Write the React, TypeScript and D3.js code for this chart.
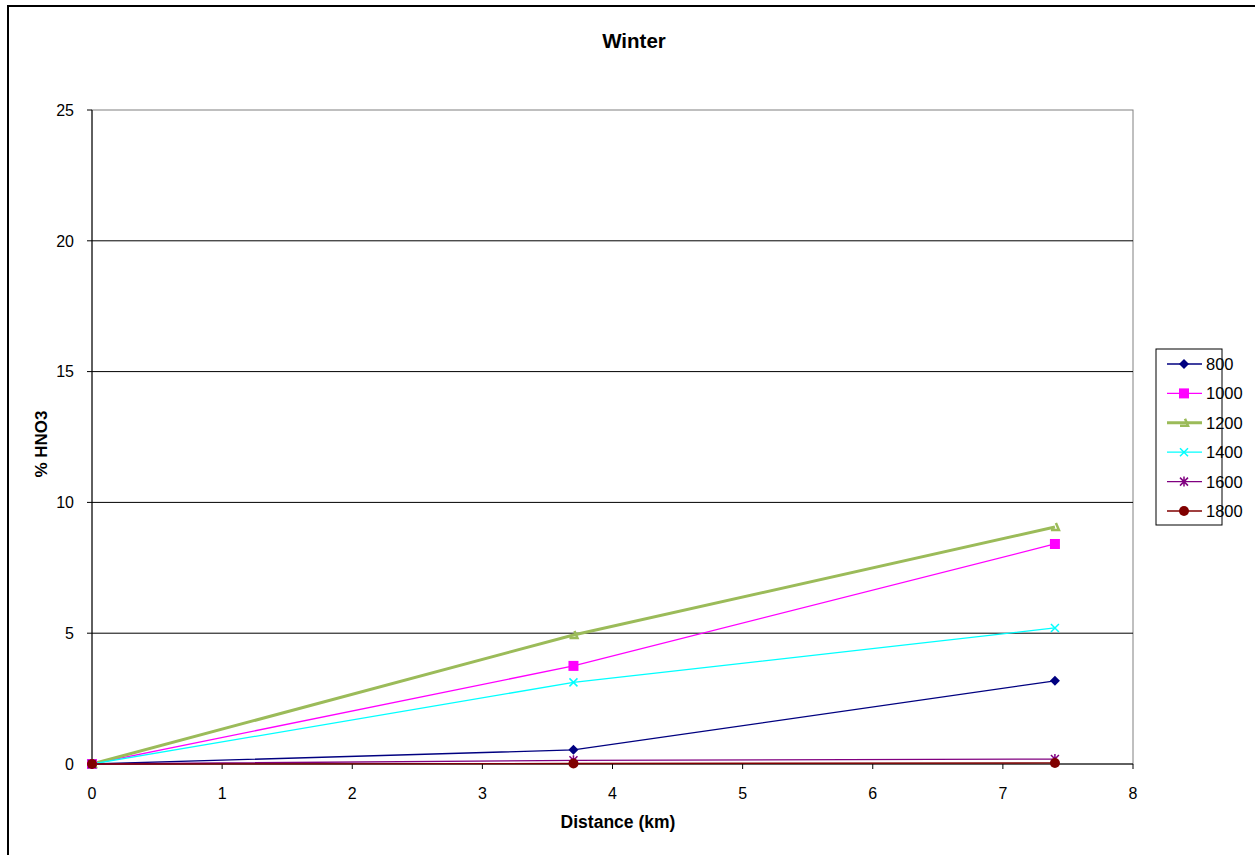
import React from "react";
import * as d3 from "d3";

const distances = [0, 3.7, 7.4];
const seriesNames = ["800", "1000", "1200", "1400", "1600", "1800"];
const v800 = [0, 0.54, 3.18];
const v1000 = [0, 3.75, 8.41];
const v1200 = [0, 4.93, 9.06];
const v1400 = [0, 3.12, 5.2];
const v1600 = [0, 0.14, 0.19];
const v1800 = [0, 0.02, 0.04];
const seriesValues = [v800, v1000, v1200, v1400, v1600, v1800];
const colors = ["#000080", "#FF00FF", "#9BBB59", "#00FFFF", "#800080", "#800000"];
const widths = [1.3, 1.3, 3, 1.3, 1.3, 1.3];
const xTicks = [0, 1, 2, 3, 4, 5, 6, 7, 8];
const yTicks = [0, 5, 10, 15, 20, 25];

function Marker({ i, x, y }: { i: number; x: number; y: number }) {
  const c = colors[i];
  switch (i) {
    case 0:
      return <path d={`M${x},${y - 5}L${x + 5},${y}L${x},${y + 5}L${x - 5},${y}Z`} fill={c} />;
    case 1:
      return <rect x={x - 5} y={y - 5} width={10} height={10} fill={c} />;
    case 2:
      return (
        <path
          d={`M${x - 4},${y + 3}L${x + 4},${y + 3}L${x + 1},${y - 4}`}
          fill="none"
          stroke={c}
          strokeWidth={2.5}
        />
      );
    case 3:
      return (
        <path d={`M${x - 4},${y - 4}L${x + 4},${y + 4}M${x - 4},${y + 4}L${x + 4},${y - 4}`} stroke={c} strokeWidth={1.5} />
      );
    case 4:
      return (
        <path
          d={`M${x - 4},${y - 4}L${x + 4},${y + 4}M${x - 4},${y + 4}L${x + 4},${y - 4}M${x},${y - 5}L${x},${y + 5}`}
          stroke={c}
          strokeWidth={1.5}
        />
      );
    default:
      return <circle cx={x} cy={y} r={5} fill={c} />;
  }
}

export default function App() {
  const W = 1255;
  const H = 855;
  const left = 92, right = 1133, top = 110, bottom = 764;
  const x = d3.scaleLinear().domain([0, 8]).range([left, right]);
  const y = d3.scaleLinear().domain([0, 25]).range([bottom, top]);
  const line = d3
    .line<number>()
    .x((_, j) => x(distances[j]))
    .y((d) => y(d));
  const font = "'Liberation Sans', Arial, sans-serif";
  const legX = 1156, legY = 349, legW = 66, legH = 176;
  const legStep = 29.4;

  return (
    <svg
      width={W}
      height={H}
      style={{ position: "absolute", left: 0, top: 0, display: "block" }}
      fontFamily={font}
    >
      <rect x={0} y={0} width={W} height={H} fill="#fff" />
      <rect x={8} y={6} width={W + 20} height={H + 20} fill="#fff" stroke="#000" strokeWidth={2} />
      {/* plot area border */}
      <rect x={left} y={top} width={right - left} height={bottom - top} fill="#fff" stroke="#808080" strokeWidth={1} />
      {/* gridlines */}
      {yTicks.filter((t) => t > 0 && t < 25).map((t) => (
        <line key={t} x1={left} x2={right} y1={y(t)} y2={y(t)} stroke="#000" strokeWidth={1} />
      ))}
      {/* y axis */}
      <line x1={left} x2={left} y1={top} y2={bottom} stroke="#000" strokeWidth={1} />
      {yTicks.map((t) => (
        <g key={t}>
          <line x1={left - 5} x2={left} y1={y(t)} y2={y(t)} stroke="#000" />
          <text x={left - 18} y={y(t)} dy="0.36em" textAnchor="end" fontSize={16}>
            {t}
          </text>
        </g>
      ))}
      {/* x axis */}
      <line x1={left} x2={right} y1={bottom} y2={bottom} stroke="#000" strokeWidth={1} />
      {xTicks.map((t) => (
        <g key={t}>
          <line x1={x(t)} x2={x(t)} y1={bottom} y2={bottom + 5} stroke="#000" />
          <text x={x(t)} y={799} textAnchor="middle" fontSize={16}>
            {t}
          </text>
        </g>
      ))}
      {/* series */}
      {seriesValues.map((vals, i) => (
        <g key={i}>
          <path d={line(vals) || ""} fill="none" stroke={colors[i]} strokeWidth={widths[i]} />
        </g>
      ))}
      {seriesValues.map((vals, i) => (
        <g key={"m" + i}>
          {vals.map((v, j) => (
            <Marker key={j} i={i} x={x(distances[j])} y={y(v)} />
          ))}
        </g>
      ))}
      {/* title */}
      <text x={634} y={48} textAnchor="middle" fontSize={20.5} fontWeight="bold">
        Winter
      </text>
      <text x={618} y={828} textAnchor="middle" fontSize={17.5} fontWeight="bold">
        Distance (km)
      </text>
      <text
        transform={`translate(47,444) rotate(-90)`}
        textAnchor="middle"
        fontSize={17}
        fontWeight="bold"
      >
        % HNO3
      </text>
      {/* legend */}
      <rect x={legX} y={legY} width={legW} height={legH} fill="#fff" stroke="#000" strokeWidth={1} />
      {seriesNames.map((n, i) => {
        const ly = legY + 15 + i * legStep;
        return (
          <g key={n}>
            <line x1={legX + 11} x2={legX + 46} y1={ly} y2={ly} stroke={colors[i]} strokeWidth={widths[i]} />
            <Marker i={i} x={legX + 28} y={ly} />
            <text x={legX + 50} y={ly} dy="0.36em" fontSize={16.5}>
              {n}
            </text>
          </g>
        );
      })}
    </svg>
  );
}
